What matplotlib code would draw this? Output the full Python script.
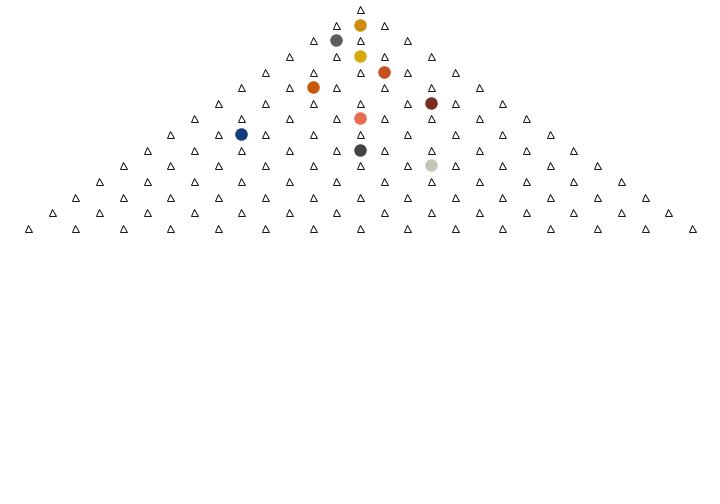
import matplotlib
matplotlib.use("Agg")
import matplotlib.pyplot as plt

# Galton-board style lattice: number of peg rows
n_rows = 15

# ball positions per row (row index, horizontal offset in peg units)
ball_rows = [1, 2, 3, 4, 5, 6, 7, 8, 9, 10]
ball_x = [0.0, -0.5, 0.0, 0.5, -1.0, 1.5, 0.0, -2.5, 0.0, 1.5]
ball_colors = ["#cf8a10", "#5c5c5c", "#d4a912", "#c6511c", "#c65a0c",
               "#7a2c22", "#e86b52", "#123c7a", "#444444", "#c4c6b8"]

peg_x = []
peg_y = []
for k in range(n_rows):
    for j in range(k + 1):
        peg_x.append(j - k / 2)
        peg_y.append(-k)

fig = plt.figure(figsize=(10, 7), dpi=72)
ax = fig.add_axes([0, 0, 1, 1])

ax.plot(peg_x, peg_y, linestyle="none", marker="^", markersize=7,
        markerfacecolor="white", markeredgecolor="black", markeredgewidth=0.9)

for r, x, c in zip(ball_rows, ball_x, ball_colors):
    ax.plot([x], [-r], linestyle="none", marker="o", markersize=12.5,
            color=c, markeredgewidth=0)

ax.set_xlim(-7.59, 7.59)
ax.set_ylim(-31.65, 0.575)
ax.axis("off")

fig.savefig("out.png", dpi=72, facecolor="white")
